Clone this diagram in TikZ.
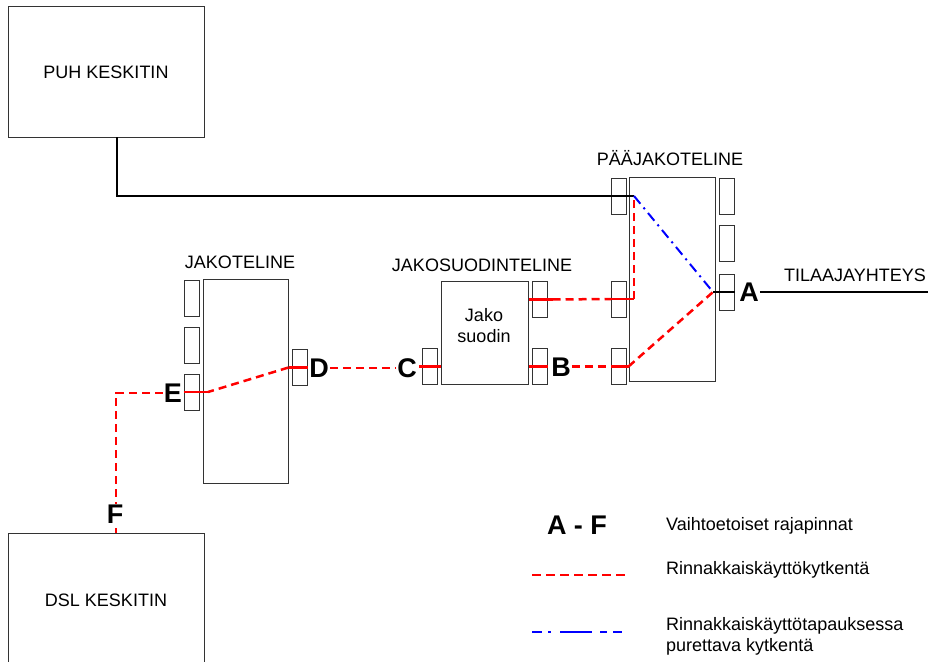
\documentclass[tikz,border=0pt]{standalone}
\usepackage{fontspec}
\setmainfont{Liberation Sans}
\definecolor{boxgray}{HTML}{333333}
\definecolor{parred}{HTML}{FF0000}
\definecolor{cutblue}{HTML}{0000FF}
\begin{document}
\begin{tikzpicture}[x=1pt,y=-1pt,
  box/.style={draw=boxgray, line width=1pt, inner sep=0pt},
  plug/.style={draw=boxgray, line width=1pt, minimum width=15pt, minimum height=36pt, inner sep=0pt},
  lbl/.style={font=\fontsize{18}{21}\selectfont, inner sep=0pt},
  iface/.style={font=\fontsize{27}{30}\selectfont\bfseries, inner sep=1pt},
  wire/.style={line width=2.5pt},
  par/.style={parred, line width=2.5pt, dash pattern=on 8pt off 5pt},
  parsolid/.style={parred, line width=2.5pt},
  cut/.style={cutblue, line width=2pt, dash pattern=on 10pt off 5pt on 2pt off 5pt},
]
\useasboundingbox (0,0) rectangle (928,661);
\clip (0,0) rectangle (928,661);

% main boxes
\node[box, lbl, minimum width=196pt, minimum height=130pt] (puh) at (106,72) {PUH KESKITIN};
\node[box, lbl, minimum width=196pt, minimum height=134pt] (dsl) at (106,600) {DSL KESKITIN};
\node[box, minimum width=86pt, minimum height=204pt] (pj) at (672,279) {};
\node[lbl] (pjname) at (670,158) {PÄÄJAKOTELINE};
\node[box, minimum width=87pt, minimum height=103pt] (js) at (484.5,332.5) {};
\node[lbl, align=center] (jsinner) at (484,326) {Jako\\suodin};
\node[lbl] (jsname) at (482,265) {JAKOSUODINTELINE};
\node[box, minimum width=85pt, minimum height=204pt] (jt) at (245.5,381) {};
\node[lbl] (jtname) at (240,262) {JAKOTELINE};

% plugs
\node[plug] (pjl1) at (618.5,196) {};
\node[plug] (pjl2) at (619,299) {};
\node[plug] (pjl3) at (619,366.5) {};
\node[plug] (pjr1) at (726.5,196) {};
\node[plug] (pjr2) at (726.5,243.5) {};
\node[plug] (pjr3) at (726.5,292) {};
\node[plug] (jsr1) at (539.5,299.5) {};
\node[plug] (jsr2) at (539.5,366.5) {};
\node[plug] (jsl) at (430,366.5) {};
\node[plug] (jtl1) at (191.5,298) {};
\node[plug] (jtl2) at (191.5,345) {};
\node[plug] (jtl3) at (191.5,392) {};
\node[plug] (jtr) at (299.5,367.5) {};

% interface labels
\node[iface] (lA) at (749,292) {A};
\node[iface] (lB) at (561,367) {B};
\node[iface] (lC) at (407,368) {C};
\node[iface] (lD) at (319,368) {D};
\node[iface] (lE) at (173,393) {E};
\node[lbl] (tilaname) at (855,275) {TILAAJAYHTEYS};

% junction points
\coordinate (puhout) at (117,137);
\coordinate (pjbus) at (634,196);
\coordinate (pjA) at (713,292);
\coordinate (tilaend) at (930,292);
\coordinate (jtE) at (208,392);
\coordinate (dslin) at (116,533);

% black wires
\draw[wire] (puhout) |- (pjbus);
\draw[wire] (pjA) -- (pjr3.east);
\draw[wire] (lA.east) -- (tilaend);

% blue line to cut
\draw[cut] (pjbus) -- (pjA);

% upper red path
\draw[parsolid] (js.east |- jsr1) -- ([xshift=5pt]jsr1.east);
\draw[par] ([xshift=5pt]jsr1.east) -- (pjl2.west);
\draw[parsolid] (pjl2.west) -- (pjbus |- pjl2);
\draw[par] (pjbus |- pjl2) -- (pjbus);

% lower red path
\draw[parsolid] (js.east |- jsr2) -- (jsr2.east);
\draw[par] (lB.east |- jsr2) -- (pjl3.west);
\draw[parsolid] (pjl3.west) -- (pj.west |- pjl3);
\draw[par] (pj.west |- pjl3) -- (pjA);

% C - D
\draw[parsolid] ([xshift=-3pt]jsl.west) -- (js.west |- jsl);
\draw[par] (lD.east) -- (lC.west);
\draw[parsolid] (jt.east |- jtr) -- (jtr.east);
\draw[par] (jt.east |- jtr) -- (jtE);
\draw[parsolid] (jtl3.west) -- (jtE);

% E - F
\draw[par] (lE.west) -| (dslin);
\node[iface, fill=white, inner sep=1pt] (lF) at (115,514) {F};

% legend
\node[iface] (legAF) at (577,525) {A - F};
\node[lbl, anchor=west] (leg1) at (666,526) {Vaihtoetoiset rajapinnat};
\coordinate (legRa) at (532,575);
\coordinate (legRb) at (627,575);
\draw[parred, line width=2.5pt, dash pattern=on 9pt off 5pt] (legRa) -- (legRb);
\node[lbl, anchor=west] (leg2) at (666,570) {Rinnakkaiskäyttökytkentä};
\coordinate (legBa) at (532,632);
\coordinate (legBb) at (622,632);
\draw[cutblue, line width=1.5pt, dash pattern=on 10pt off 6pt on 3pt off 9pt on 32pt off 8pt on 7pt off 6pt on 9pt off 20pt] (legBa) -- (legBb);
\node[lbl, anchor=west, align=left] (leg3) at (666,636) {Rinnakkaiskäyttötapauksessa\\purettava kytkentä};
\end{tikzpicture}
\end{document}
